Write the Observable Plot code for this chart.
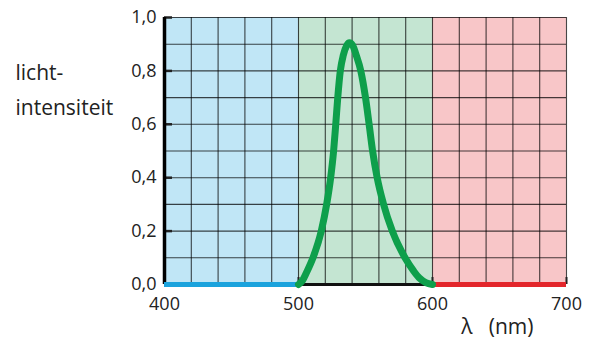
<!DOCTYPE html>
<html>
<head>
<meta charset="utf-8">
<script src="https://cdn.jsdelivr.net/npm/d3@7"></script>
<script src="https://cdn.jsdelivr.net/npm/@observablehq/plot@0.6"></script>
<style>
  html, body { margin: 0; padding: 0; background: #fff; }
  #chart { width: 591px; height: 341px; }
</style>
</head>
<body>
<div id="chart"></div>
<script>
// ---- data ----
const wavelength = [500, 503, 506, 510.8, 517, 521, 524, 526.2, 527.8, 529.3, 531.2, 533.5, 536, 538, 540.5, 543, 546.5, 550, 552.7, 555.3, 558.7, 563.5, 570, 579.5, 586, 590, 595, 600];
const intensity  = [0, 0.015, 0.045, 0.1, 0.2, 0.3, 0.4, 0.5, 0.6, 0.7, 0.8, 0.86, 0.895, 0.905, 0.895, 0.86, 0.8, 0.7, 0.6, 0.5, 0.4, 0.3, 0.2, 0.1, 0.05, 0.025, 0.007, 0];
const bandStart = [400, 500, 600];
const bandEnd   = [500, 600, 700];
const bandName  = ["blauw", "groen", "rood"];
const xTicks = [400, 500, 600, 700];
const yTicks = [0, 0.2, 0.4, 0.6, 0.8, 1.0];
const gridX = [400, 420, 440, 460, 480, 500, 520, 540, 560, 580, 600, 620, 640, 660, 680, 700];
const gridY = [0, 0.1, 0.2, 0.3, 0.4, 0.5, 0.6, 0.7, 0.8, 0.9, 1.0];
const yTitle = ["licht-\nintensiteit"];
const xTitle = ["λ\u00a0\u00a0\u00a0(nm)"];

// ---- styles ----
const bgColors  = {blauw: "#c0e6f6", groen: "#c4e5d2", rood: "#f8c6c8"};
const barColors = {blauw: "#1ba3dd", groen: "#111111", rood: "#e3262b"};

const curve = wavelength.map((w, i) => ({w, v: intensity[i]}));
const bands = bandStart.map((s, i) => ({x1: s, x2: bandEnd[i], name: bandName[i]}));
const fmt = d => d.toFixed(1).replace(".", ",");

const chart = Plot.plot({
  width: 591,
  height: 341,
  marginLeft: 164,
  marginRight: 25,
  marginTop: 17,
  marginBottom: 57,
  style: {fontFamily: "'Open Sans', sans-serif", fontSize: "18px", color: "#222", background: "#fff"},
  x: {domain: [400, 700]},
  y: {domain: [0, 1]},
  marks: [
    Plot.rectX(bands, {x1: "x1", x2: "x2", y1: 0, y2: 1, fill: d => bgColors[d.name]}),
    Plot.ruleX(gridX, {stroke: "#000", strokeOpacity: 0.72, strokeWidth: 1.1}),
    Plot.ruleY(gridY, {stroke: "#000", strokeOpacity: 0.72, strokeWidth: 1.1}),
    Plot.axisY({ticks: yTicks, tickFormat: fmt, tickSize: -8, strokeWidth: 2.5, tickPadding: 16, label: null, fill: "#222"}),
    Plot.axisX({ticks: xTicks, tickFormat: d => d, tickSize: -7, strokeWidth: 2, tickPadding: 20, label: null, fill: "#222"}),
    Plot.ruleX([400], {y1: 0, y2: 1, stroke: "#000", strokeWidth: 3.5}),
    Plot.ruleY(bands, {y: 0, x1: "x1", x2: "x2", stroke: d => barColors[d.name], strokeWidth: d => d.name === "groen" ? 3 : 5}),
    Plot.line(curve, {x: "w", y: "v", stroke: "#0e9f4b", strokeWidth: 7, curve: "monotone-x", strokeLinecap: "round", strokeLinejoin: "round"}),
    Plot.text(yTitle, {frameAnchor: "top-left", textAnchor: "start", lineAnchor: "top", dx: -149, dy: 38, fontSize: 21, lineHeight: 1.67, fill: "#222", letterSpacing: 1.3}),
    Plot.text(xTitle, {frameAnchor: "bottom-right", textAnchor: "end", lineAnchor: "bottom", dx: -33, dy: 49, fontSize: 21, fill: "#222"})
  ]
});
document.getElementById("chart").appendChild(chart);
</script>
</body>
</html>
